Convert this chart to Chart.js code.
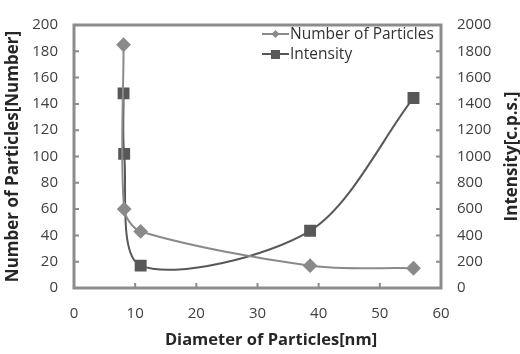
<!DOCTYPE html>
<html>
<head>
<meta charset="utf-8">
<script src="https://cdn.jsdelivr.net/npm/chart.js@4/dist/chart.umd.min.js"></script>
<style>
  html, body { margin: 0; padding: 0; background: #fff; }
</style>
</head>
<body>
<canvas id="particleChart" width="520" height="354"></canvas>
<script>
  // values
  const diameterNm = [8.1, 8.2, 10.9, 38.6, 55.5];
  const particleCount = [185, 60, 43, 17, 15];
  const intensityCps = [1480, 1020, 170, 435, 1445];
  const xTicks = [0, 10, 20, 30, 40, 50, 60];
  const countTicks = [0, 20, 40, 60, 80, 100, 120, 140, 160, 180, 200];
  const intensityTicks = [0, 200, 400, 600, 800, 1000, 1200, 1400, 1600, 1800, 2000];

  const FONT = '"Open Sans", "DejaVu Sans", sans-serif';
  const countColor = '#8a8a8a';
  const intensityColor = '#585858';
  const labelColor = '#404040';
  const titleColor = '#262626';

  const toPoints = (xs, ys) => xs.map((x, i) => ({ x: x, y: ys[i] }));

  // frame, inward tick marks, x/right titles and the legend inside the plot
  const framePlugin = {
    id: 'frame',
    afterDraw(chart) {
      const c = chart.ctx;
      const a = chart.chartArea;
      const s = chart.scales;
      c.save();
      c.strokeStyle = '#8c8c8c';
      c.lineWidth = 3;
      c.strokeRect(a.left, a.top, a.right - a.left, a.bottom - a.top);

      c.lineWidth = 2;
      c.beginPath();
      s.x.ticks.forEach(t => {
        const px = s.x.getPixelForValue(t.value);
        c.moveTo(px, a.bottom); c.lineTo(px, a.bottom - 5);
      });
      s.y.ticks.forEach(t => {
        const py = s.y.getPixelForValue(t.value);
        c.moveTo(a.left, py); c.lineTo(a.left + 5, py);
      });
      s.y1.ticks.forEach(t => {
        const py = s.y1.getPixelForValue(t.value);
        c.moveTo(a.right, py); c.lineTo(a.right - 5, py);
      });
      c.stroke();

      c.font = 'bold 16.5px ' + FONT;
      c.fillStyle = titleColor;
      c.textAlign = 'center';
      c.textBaseline = 'middle';
      // x title sits a little right of the plot centre, as in the original
      c.fillText('Diameter of Particles[nm]', 271, 340);

      // right axis title, reading bottom to top like the left one
      c.save();
      c.translate(512, (a.top + a.bottom) / 2);
      c.rotate(-Math.PI / 2);
      c.font = 'bold 17px ' + FONT;
      c.fillText('Intensity[c.p.s.]', 0, 0);
      c.restore();

      // legend
      const rows = [
        { label: 'Number of Particles', color: countColor, shape: 'rectRot' },
        { label: 'Intensity', color: intensityColor, shape: 'rect' }
      ];
      c.font = '15.5px ' + FONT;
      c.textAlign = 'left';
      rows.forEach((r, i) => {
        const y = a.top + 9 + i * 20;
        const x0 = a.left + 188;
        c.strokeStyle = r.color;
        c.lineWidth = 2;
        c.beginPath(); c.moveTo(x0, y); c.lineTo(x0 + 27, y); c.stroke();
        c.fillStyle = r.color;
        if (r.shape === 'rect') {
          c.fillRect(x0 + 9, y - 4, 9, 9);
        } else {
          c.beginPath();
          c.moveTo(x0 + 13.5, y - 4); c.lineTo(x0 + 17.5, y);
          c.lineTo(x0 + 13.5, y + 4); c.lineTo(x0 + 9.5, y);
          c.closePath(); c.fill();
        }
        c.fillStyle = '#333';
        c.fillText(r.label, x0 + 28, y + 1);
      });
      c.restore();
    }
  };

  const tickFont = { family: FONT, size: 15 };
  const titleFont = { family: FONT, size: 17, weight: 'bold' };

  const config = {
    type: 'line',
    data: {
      datasets: [
        {
          label: 'Number of Particles',
          data: toPoints(diameterNm, particleCount),
          yAxisID: 'y',
          borderColor: countColor,
          backgroundColor: countColor,
          borderWidth: 2,
          pointStyle: 'rectRot',
          pointRadius: 6,
          tension: 0.3
        },
        {
          label: 'Intensity',
          data: toPoints(diameterNm, intensityCps),
          yAxisID: 'y1',
          borderColor: intensityColor,
          backgroundColor: intensityColor,
          borderWidth: 2,
          pointStyle: 'rect',
          pointRadius: 7,
          tension: 0.3
        }
      ]
    },
    options: {
      responsive: false,
      animation: false,
      layout: { padding: { top: 4, right: 0, bottom: 0, left: 0 } },
      plugins: {
        legend: { display: false },
        tooltip: { enabled: false }
      },
      scales: {
        x: {
          type: 'linear',
          min: 0,
          max: 60,
          afterBuildTicks: s => { s.ticks = xTicks.map(v => ({ value: v })); },
          afterFit: s => { s.height = 66; },
          grid: { display: false, drawTicks: false },
          border: { display: false },
          ticks: { color: labelColor, font: tickFont, padding: 17 },
          title: { display: false }
        },
        y: {
          position: 'left',
          min: 0,
          max: 200,
          afterBuildTicks: s => { s.ticks = countTicks.map(v => ({ value: v })); },
          afterFit: s => { s.width = 74; },
          grid: { display: false, drawTicks: false },
          border: { display: false },
          ticks: { color: labelColor, font: tickFont, padding: 16 },
          title: {
            display: true,
            text: 'Number of Particles[Number]',
            color: titleColor,
            font: titleFont,
            padding: { top: 3, bottom: 0 }
          }
        },
        y1: {
          position: 'right',
          min: 0,
          max: 2000,
          afterBuildTicks: s => { s.ticks = intensityTicks.map(v => ({ value: v })); },
          afterFit: s => { s.width = 79; },
          grid: { display: false, drawTicks: false },
          border: { display: false },
          ticks: {
            color: labelColor,
            font: tickFont,
            padding: 16,
            callback: v => String(v)
          },
          title: { display: false }
        }
      }
    },
    plugins: [framePlugin]
  };

  new Chart(document.getElementById('particleChart').getContext('2d'), config);
</script>
</body>
</html>
